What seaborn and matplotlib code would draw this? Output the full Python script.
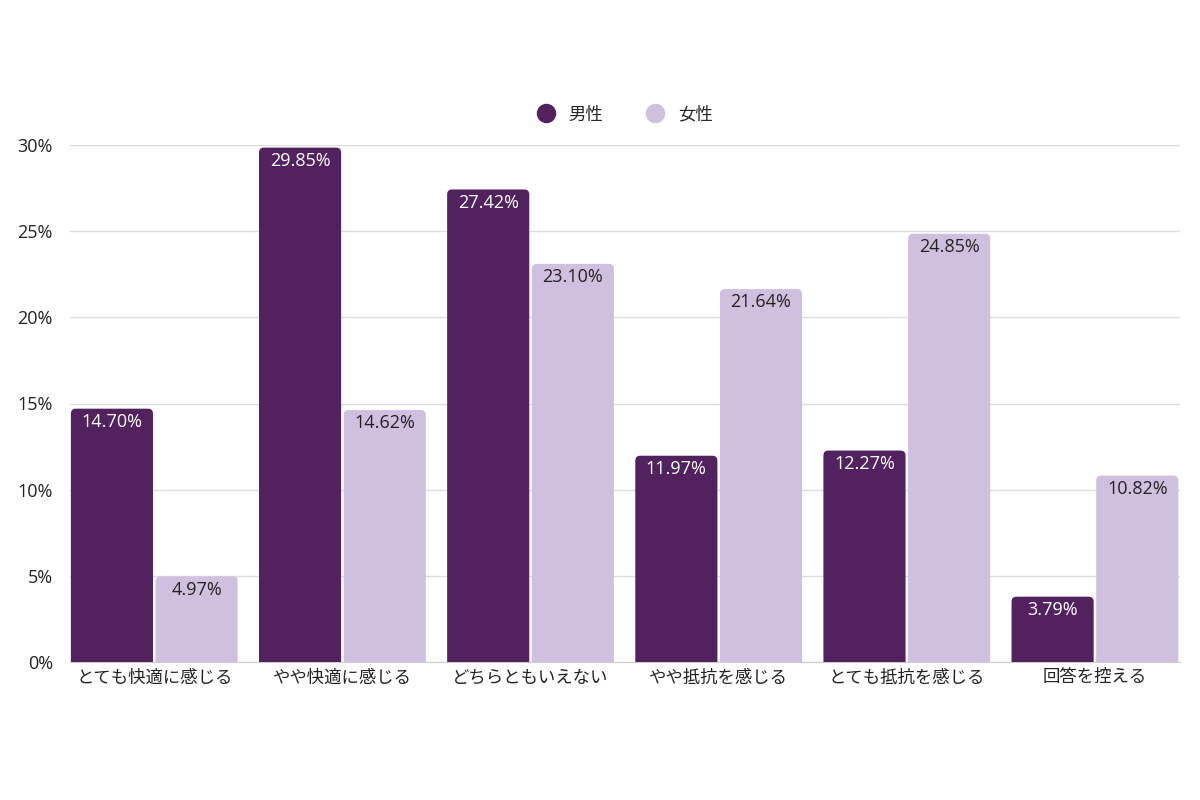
import pandas as pd
import matplotlib.pyplot as plt
import seaborn as sns
from matplotlib.patches import FancyBboxPatch
from matplotlib.lines import Line2D

# --- Data ---
categories = ["とても快適に感じる", "やや快適に感じる", "どちらともいえない",
              "やや抵抗を感じる", "とても抵抗を感じる", "回答を控える"]
male = [14.70, 29.85, 27.42, 11.97, 12.27, 3.79]
female = [4.97, 14.62, 23.10, 21.64, 24.85, 10.82]
series = ["男性", "女性"]
colors = ["#52225E", "#D0C0E0"]

df = pd.DataFrame({
    "category": categories * 2,
    "gender": [series[0]] * len(categories) + [series[1]] * len(categories),
    "value": male + female,
})

sns.set_style("white")
plt.rcParams['font.family'] = ['Open Sans', 'Noto Sans CJK JP', 'DejaVu Sans']

fig = plt.figure(figsize=(12, 8), dpi=100)
ax = fig.add_axes([0.058, 0.1725, 0.925, 0.64625])

sns.barplot(data=df, x="category", y="value", hue="gender", palette=colors,
            width=0.9, gap=0.03, ax=ax, legend=False, saturation=1)

ax.set_xlim(-0.45, len(categories) - 0.55)
ax.set_ylim(0, 30)

# rounded tops: replace rectangles with rounded boxes
px_x = ax.get_window_extent().width / (ax.get_xlim()[1] - ax.get_xlim()[0])
px_y = ax.get_window_extent().height / 30
aspect = px_x / px_y
r = 5 / px_x
bars = list(ax.patches)
for p in bars:
    x0, w, h = p.get_x(), p.get_width(), p.get_height()
    fc = p.get_facecolor()
    p.remove()
    box = FancyBboxPatch((x0 + r, -r * aspect), w - 2 * r, h,
                         boxstyle=f"round,pad={r},rounding_size={r}",
                         mutation_aspect=aspect, facecolor=fc,
                         edgecolor="none", zorder=3)
    ax.add_patch(box)

# value labels inside bars
for c, (vm, vf) in enumerate(zip(male, female)):
    for k, (v, tc) in enumerate([(vm, "white"), (vf, "#222222")]):
        xc = c - 0.225 + k * 0.45
        ax.text(xc, v - 0.25, f"{v:.2f}%", ha="center", va="top",
                color=tc, fontsize=13, zorder=4)

ax.set_yticks([0, 5, 10, 15, 20, 25, 30])
ax.set_yticklabels([f"{t}%" for t in [0, 5, 10, 15, 20, 25, 30]])
ax.yaxis.grid(True, color="#dddddd", linewidth=1)
ax.set_axisbelow(True)
ax.tick_params(axis="both", length=0, labelsize=13, colors="#222222")
ax.tick_params(axis="x", labelsize=12.5)
ax.tick_params(axis="y", pad=12)
ax.tick_params(axis="x", pad=6)
ax.set_xlabel("")
ax.set_ylabel("")
for s in ["left", "right", "top"]:
    ax.spines[s].set_visible(False)
ax.spines["bottom"].set_color("#cccccc")

handles = [Line2D([0], [0], marker="o", linestyle="", markersize=13,
                  markerfacecolor=col, markeredgecolor=col) for col in colors]
fig.legend(handles, series, loc="center", bbox_to_anchor=(0.517, 0.856),
           ncol=2, frameon=False, fontsize=12.5, handletextpad=0.3,
           columnspacing=2.0)

fig.savefig("out.png", dpi=100)
